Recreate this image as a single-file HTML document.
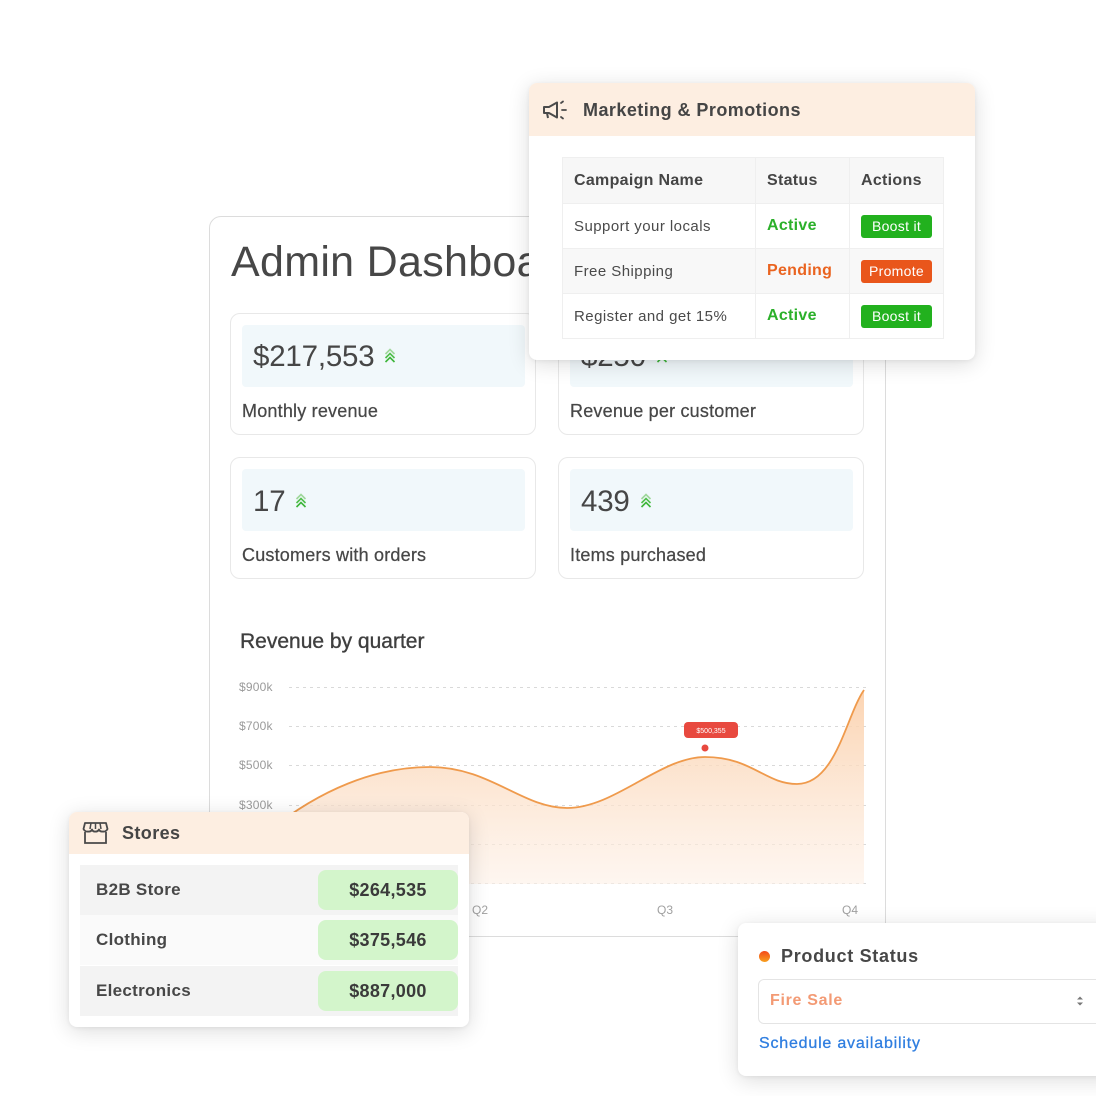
<!DOCTYPE html>
<html><head><meta charset="utf-8">
<style>
*{margin:0;padding:0;box-sizing:border-box}
html,body{width:1096px;height:1096px;background:#fff;overflow:hidden;font-family:"Liberation Sans",Arial,sans-serif;color:#444}
.abs{position:absolute}
.main{left:209px;top:216px;width:677px;height:721px;border:1px solid #dcdcdc;border-radius:12px;background:#fff}
.title{left:231px;top:238px;font-size:43px;color:#474747;white-space:nowrap;letter-spacing:0.3px}
.stat{width:306px;height:122px;border:1px solid #e8e8e8;border-radius:10px;background:#fff}
.stat .box{position:absolute;left:11px;top:11px;width:283px;height:62px;background:#f1f8fb;border-radius:4px}
.stat .val{position:absolute;left:11px;top:13px;font-size:29.5px;color:#464646;white-space:nowrap;letter-spacing:-0.2px}
.stat .lbl{position:absolute;left:11px;top:87px;font-size:18px;color:#474747;white-space:nowrap;-webkit-text-stroke:0.25px #474747;letter-spacing:0.2px}
.chev{display:inline-block;vertical-align:middle;margin-left:10px;margin-top:-6px}
.rq{left:240px;top:630px;font-size:21px;color:#3f3f3f;-webkit-text-stroke:0.35px #3f3f3f;white-space:nowrap}
.ylab{font-size:12px;color:#9a9a9a;left:239px;letter-spacing:0.2px}
.xlab{font-size:12px;color:#a0a0a0}
.card{background:#fff;border-radius:8px;box-shadow:0 4px 22px rgba(0,0,0,0.14),0 1px 4px rgba(0,0,0,0.06);overflow:hidden}
.mk{left:529px;top:83px;width:446px;height:277px}
.mkh{position:absolute;left:0;top:0;width:100%;height:53px;background:#fdeee1}
.mkt{position:absolute;left:54px;top:17px;font-size:18px;font-weight:bold;letter-spacing:0.45px;color:#454545}
table{border-collapse:collapse;position:absolute;left:33px;top:74px}
td,th{border:1px solid #efefef;text-align:left;white-space:nowrap;padding:0 11px}
th{height:46px;background:#f7f7f7;font-size:16px;font-weight:bold;letter-spacing:0.3px;color:#454545}
td{height:45px;font-size:15px;letter-spacing:0.45px;color:#4a4a4a}
tr.g td{background:#f8f8f8}
.act{color:#2bb02a;font-weight:bold;font-size:16px;letter-spacing:0.3px}
.pen{color:#ea6420;font-weight:bold;font-size:16px;letter-spacing:0.3px}
.btn{display:inline-block;width:71px;height:23px;line-height:23px;text-align:center;color:#fff;font-size:14px;border-radius:3px;letter-spacing:0.3px}
.bg{background:#22b11e}.bo{background:#e9561b}
.st{left:69px;top:812px;width:400px;height:215px}
.sth{position:absolute;left:0;top:0;width:100%;height:42px;background:#fdeee1}
.stt{position:absolute;left:53px;top:11px;font-size:18px;font-weight:bold;letter-spacing:0.4px;color:#454545}
.row{position:absolute;left:11px;width:378px;height:50px}
.row .n{position:absolute;left:16px;top:15px;font-size:17px;font-weight:bold;color:#474747;letter-spacing:0.3px}
.row .v{position:absolute;right:0;top:5px;width:140px;height:40px;background:#d3f5cb;border-radius:8px;text-align:center;line-height:40px;font-size:18px;font-weight:bold;color:#3a3a3a;letter-spacing:0.3px}
.ps{left:738px;top:923px;width:380px;height:153px}
</style></head><body>

<div class="abs main"></div>
<div class="abs title">Admin Dashboard</div>

<div class="abs stat" style="left:230px;top:313px"><div class="box"></div>
<div class="val" style="left:22px;top:26px">$217,553<svg class="chev" width="12" height="16" viewBox="0 0 12 16"><path d="M1.5 7 L6 2.5 L10.5 7" fill="none" stroke="#9ed79a" stroke-width="1.6"/><path d="M1.5 11 L6 6.5 L10.5 11" fill="none" stroke="#4fbf4a" stroke-width="1.6"/><path d="M1.5 15 L6 10.5 L10.5 15" fill="none" stroke="#3db539" stroke-width="1.6"/></svg></div>
<div class="lbl">Monthly revenue</div></div>

<div class="abs stat" style="left:558px;top:313px"><div class="box"></div>
<div class="val" style="left:22px;top:26px">$250<svg class="chev" width="12" height="16" viewBox="0 0 12 16"><path d="M1.5 15 L6 10.5 L10.5 15" fill="none" stroke="#3db539" stroke-width="1.6"/></svg></div>
<div class="lbl">Revenue per customer</div></div>

<div class="abs stat" style="left:230px;top:457px"><div class="box"></div>
<div class="val" style="left:22px;top:27px">17<svg class="chev" width="12" height="16" viewBox="0 0 12 16"><path d="M1.5 7 L6 2.5 L10.5 7" fill="none" stroke="#9ed79a" stroke-width="1.6"/><path d="M1.5 11 L6 6.5 L10.5 11" fill="none" stroke="#4fbf4a" stroke-width="1.6"/><path d="M1.5 15 L6 10.5 L10.5 15" fill="none" stroke="#3db539" stroke-width="1.6"/></svg></div>
<div class="lbl">Customers with orders</div></div>

<div class="abs stat" style="left:558px;top:457px"><div class="box"></div>
<div class="val" style="left:22px;top:27px">439<svg class="chev" width="12" height="16" viewBox="0 0 12 16"><path d="M1.5 7 L6 2.5 L10.5 7" fill="none" stroke="#9ed79a" stroke-width="1.6"/><path d="M1.5 11 L6 6.5 L10.5 11" fill="none" stroke="#4fbf4a" stroke-width="1.6"/><path d="M1.5 15 L6 10.5 L10.5 15" fill="none" stroke="#3db539" stroke-width="1.6"/></svg></div>
<div class="lbl">Items purchased</div></div>

<div class="abs rq">Revenue by quarter</div>

<svg class="abs" style="left:0;top:0" width="1096" height="1096">
<defs><linearGradient id="ar" x1="0" y1="0" x2="0" y2="1">
<stop offset="0" stop-color="#fbcfa9" stop-opacity="0.9"/>
<stop offset="1" stop-color="#fdf0e6" stop-opacity="0.6"/></linearGradient></defs>
<g stroke="#d9d9d9" stroke-width="1" stroke-dasharray="3 4">
<line x1="289" y1="687.5" x2="866" y2="687.5"/>
<line x1="289" y1="726.5" x2="866" y2="726.5"/>
<line x1="289" y1="765.5" x2="866" y2="765.5"/>
<line x1="289" y1="805.5" x2="866" y2="805.5"/>
<line x1="289" y1="844.5" x2="866" y2="844.5"/>
<line x1="289" y1="883.5" x2="866" y2="883.5"/>
</g>
<path d="M270 830 C320 790,375 767,430 767 C490 767,522 808,567 808 C615 808,660 757,705 757 C752 757,765 784,797 784 C836 784,846 716,864 690 L864 884 L270 884 Z" fill="url(#ar)"/>
<path d="M270 830 C320 790,375 767,430 767 C490 767,522 808,567 808 C615 808,660 757,705 757 C752 757,765 784,797 784 C836 784,846 716,864 690" fill="none" stroke="#ef9a4c" stroke-width="1.8"/>
<rect x="684" y="722" width="54" height="16" rx="4" fill="#e8493f"/>
<text x="711" y="733" font-size="7" fill="#fff" text-anchor="middle" font-family="Liberation Sans">$500,355</text>
<circle cx="705" cy="748" r="3.5" fill="#e8493f"/>
</svg>
<div class="abs ylab" style="top:680px">$900k</div>
<div class="abs ylab" style="top:719px">$700k</div>
<div class="abs ylab" style="top:758px">$500k</div>
<div class="abs ylab" style="top:798px">$300k</div>
<div class="abs xlab" style="left:472px;top:903px">Q2</div>
<div class="abs xlab" style="left:657px;top:903px">Q3</div>
<div class="abs xlab" style="left:842px;top:903px">Q4</div>

<!-- Marketing card -->
<div class="abs card mk">
<div class="mkh"></div>
<svg style="position:absolute;left:13px;top:17px" width="30" height="20" viewBox="0 0 30 20">
<path d="M2 7 L7 7 L15 2.5 L15 17.5 L7 13 L2 13 Z" fill="none" stroke="#4a4a4a" stroke-width="2" stroke-linejoin="round"/>
<path d="M5 13 L6 18" stroke="#4a4a4a" stroke-width="2"/>
<path d="M19 3 L21 1.5 M20 10 L24 10 M19 17 L21 18.5" stroke="#4a4a4a" stroke-width="1.8" stroke-linecap="round"/>
</svg>
<div class="mkt">Marketing &amp; Promotions</div>
<table>
<tr><th style="width:193px">Campaign Name</th><th style="width:94px">Status</th><th style="width:93px">Actions</th></tr>
<tr><td>Support your locals</td><td class="act">Active</td><td><span class="btn bg">Boost it</span></td></tr>
<tr class="g"><td>Free Shipping</td><td class="pen">Pending</td><td><span class="btn bo">Promote</span></td></tr>
<tr><td>Register and get 15%</td><td class="act">Active</td><td><span class="btn bg">Boost it</span></td></tr>
</table>
</div>

<!-- Stores card -->
<div class="abs card st">
<div class="sth"></div>
<svg style="position:absolute;left:13px;top:9px" width="27" height="24" viewBox="0 0 27 24">
<path d="M3 2 L24 2 L25.5 8 Q24 11 21 10.5 Q18 11 17 8.5 Q15.5 11 13.5 10.5 Q11 11 10 8.5 Q9 11 6 10.5 Q3 11 1.5 8 Z" fill="none" stroke="#4a4a4a" stroke-width="1.8" stroke-linejoin="round"/>
<path d="M9 2 L8 8 M13.5 2 L13.5 8 M18 2 L19 8" stroke="#4a4a4a" stroke-width="1.5"/>
<path d="M3 11 L3 22 L24 22 L24 11" fill="none" stroke="#4a4a4a" stroke-width="1.8"/>
</svg>
<div class="stt">Stores</div>
<div class="row" style="top:53px;background:#f3f3f3"><div class="n">B2B Store</div><div class="v">$264,535</div></div>
<div class="row" style="top:103px;background:#fafafa"><div class="n">Clothing</div><div class="v">$375,546</div></div>
<div class="row" style="top:154px;background:#f3f3f3"><div class="n">Electronics</div><div class="v">$887,000</div></div>
</div>

<!-- Product status -->
<div class="abs card ps">
<div style="position:absolute;left:21px;top:28px;width:11px;height:11px;border-radius:50%;background:linear-gradient(#f4491a,#f7a01e)"></div>
<div style="position:absolute;left:43px;top:23px;font-size:18px;font-weight:bold;letter-spacing:0.7px;color:#474747">Product Status</div>
<div style="position:absolute;left:20px;top:56px;width:360px;height:45px;border:1px solid #e4e4e4;border-radius:6px"></div>
<div style="position:absolute;left:32px;top:69px;font-size:16px;font-weight:bold;letter-spacing:0.7px;color:#f39a74">Fire Sale</div>
<svg style="position:absolute;left:338px;top:72px" width="8" height="12" viewBox="0 0 8 12"><path d="M1 4.5 L4 1.5 L7 4.5 Z M1 7.5 L4 10.5 L7 7.5 Z" fill="#777"/></svg>
<div style="position:absolute;left:21px;top:112px;font-size:16px;letter-spacing:0.8px;color:#2f7ee0;-webkit-text-stroke:0.3px #2f7ee0">Schedule availability</div>
</div>

</body></html>
